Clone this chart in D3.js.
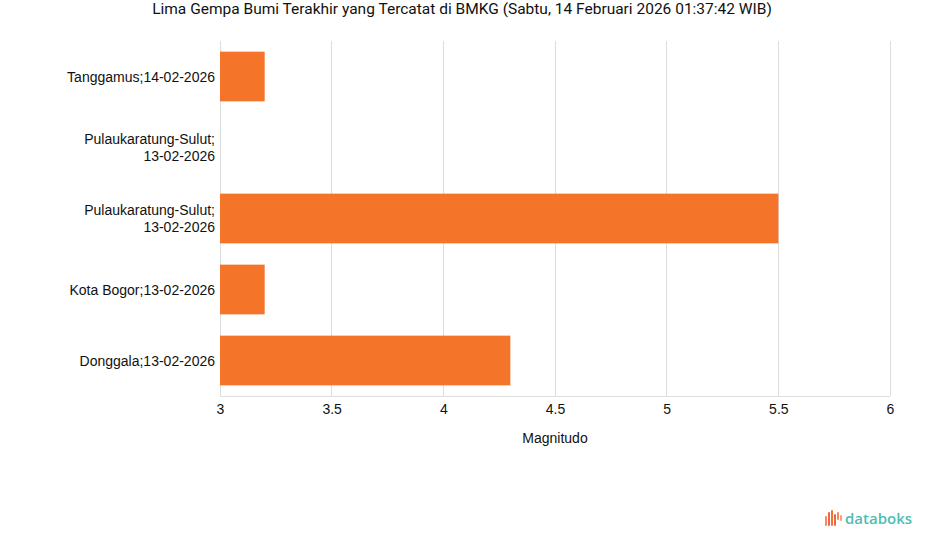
<!DOCTYPE html>
<html><head><meta charset="utf-8">
<script src="https://cdn.jsdelivr.net/npm/d3@7"></script>
<style>body{margin:0;background:#fff}svg{display:block}</style>
</head><body>
<svg id="c" width="925" height="547"></svg>
<script>
const categories = [
  ["Tanggamus;14-02-2026"],
  ["Pulaukaratung-Sulut;", "13-02-2026"],
  ["Pulaukaratung-Sulut;", "13-02-2026"],
  ["Kota Bogor;13-02-2026"],
  ["Donggala;13-02-2026"]
];
const values = [3.2, 3.0, 5.5, 3.2, 4.3];
const xTicks = [3, 3.5, 4, 4.5, 5, 5.5, 6];
const title = "Lima Gempa Bumi Terakhir yang Tercatat di BMKG (Sabtu, 14 Februari 2026 01:37:42 WIB)";
const xTitle = "Magnitudo";

const svg = d3.select("#c");
const m = {l:220, r:890, t:41, b:396};
const x = d3.scaleLinear().domain([3,6]).range([m.l, m.r]);
const y = d3.scaleBand().domain(d3.range(categories.length)).range([m.t, m.b]).paddingInner(0.3).paddingOuter(0.15);
const font = "'Liberation Sans', Arial, sans-serif";

svg.append("text").attr("x", 462).attr("y", 14).attr("text-anchor","middle")
  .attr("font-family","Roboto, sans-serif").attr("font-size",15.5).attr("fill","#111").text(title);

// gridlines
svg.append("g").selectAll("line").data(xTicks).join("line")
  .attr("x1", d=>x(d)).attr("x2", d=>x(d)).attr("y1", m.t).attr("y2", m.b)
  .attr("stroke","#dddddd").attr("stroke-width",1).attr("shape-rendering","crispEdges");
svg.append("line").attr("x1",m.l).attr("x2",m.r).attr("y1",m.b).attr("y2",m.b)
  .attr("stroke","#dddddd").attr("shape-rendering","crispEdges");

// bars
svg.append("g").selectAll("rect").data(values).join("rect")
  .attr("x", x(3)).attr("y", (d,i)=>y(i)).attr("width", d=>x(d)-x(3)).attr("height", y.bandwidth())
  .attr("fill","#f47429");

// x axis
const xa = svg.append("g").attr("transform",`translate(0,${m.b})`)
  .call(d3.axisBottom(x).tickValues(xTicks).tickSize(0).tickPadding(8).tickFormat(d3.format("")));
xa.select(".domain").remove();
xa.selectAll("text").attr("font-family",font).attr("font-size",14).attr("fill","#111");

svg.append("text").attr("x",(m.l+m.r)/2).attr("y",443).attr("text-anchor","middle")
  .attr("font-family",font).attr("font-size",14).attr("fill","#111").text(xTitle);

// y labels
const yl = svg.append("g");
categories.forEach((lines,i)=>{
  const cy = y(i) + y.bandwidth()/2;
  const lh = 17;
  const t = yl.append("text").attr("text-anchor","end").attr("font-family",font).attr("font-size",14).attr("fill","#111");
  lines.forEach((ln,j)=>{
    t.append("tspan").attr("x",215).attr("y", cy + (j - (lines.length-1)/2)*lh + 5).text(ln);
  });
});

// logo
const lg = svg.append("g").attr("transform","translate(825,510)");
const barsH = [[0,6,10],[3,2,14],[6,0,16],[9,4,12],[12,2,8],[15,5,6]];
const cols = ["#f58a5a","#f0634f","#f47429","#f0634f","#f58a5a","#f7a07a"];
barsH.forEach((b,i)=>lg.append("rect").attr("x",b[0]).attr("y",b[1]).attr("width",2).attr("height",b[2]).attr("fill",cols[i]).attr("rx",1));
lg.append("text").attr("x",20).attr("y",14).attr("font-family","'Open Sans', sans-serif").attr("font-weight",600).attr("font-size",15).attr("fill","#4dbdb3").text("databoks");
</script>
</body></html>
